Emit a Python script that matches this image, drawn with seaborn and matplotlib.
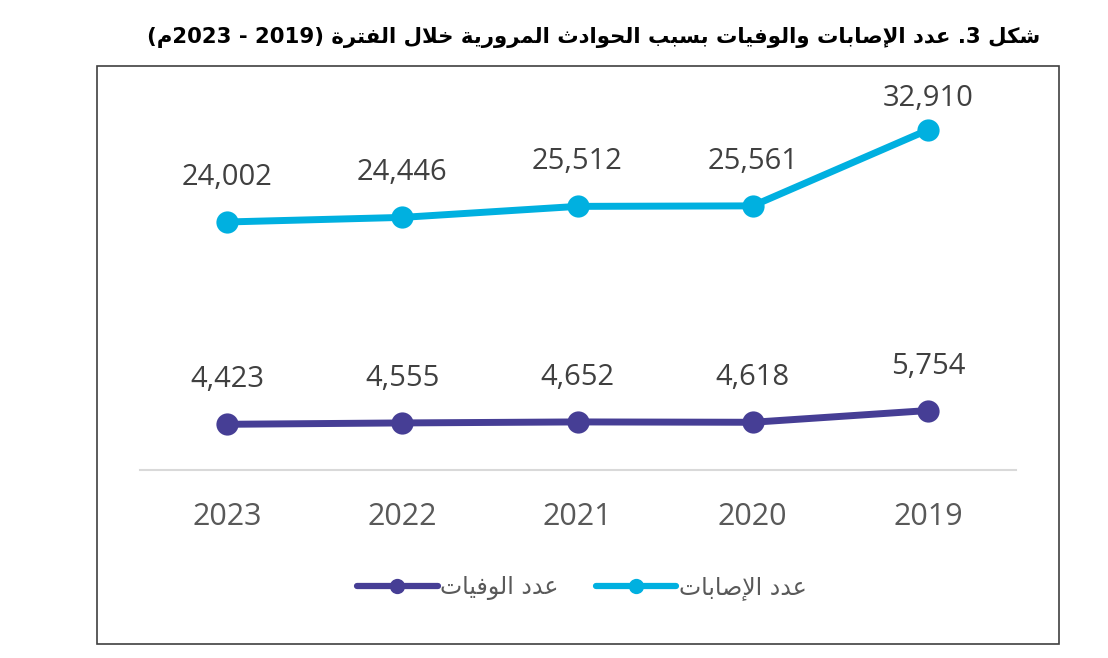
import re
import matplotlib
matplotlib.use('Agg')
import matplotlib.pyplot as plt
from matplotlib.patches import Rectangle
import seaborn as sns

# data
years = ['2023', '2022', '2021', '2020', '2019']
injuries = [24002, 24446, 25512, 25561, 32910]
deaths = [4423, 4555, 4652, 4618, 5754]

title_txt = 'شكل 3. عدد الإصابات والوفيات بسبب الحوادث المرورية خلال الفترة (2019 - 2023م)'
lbl_injuries = 'عدد الإصابات'
lbl_deaths = 'عدد الوفيات'

CYAN = '#00B0E0'
PURPLE = '#463E95'

# matplotlib has no arabic shaping, so do a tiny one by hand
# letter -> (isolated presentation form, joins to next letter)
FORMS = {
    'ا': (0xFE8D, False), 'إ': (0xFE87, False), 'ب': (0xFE8F, True), 'ة': (0xFE93, False),
    'ت': (0xFE95, True), 'ث': (0xFE99, True), 'ح': (0xFEA1, True), 'خ': (0xFEA5, True),
    'د': (0xFEA9, False), 'ر': (0xFEAD, False), 'س': (0xFEB1, True), 'ش': (0xFEB5, True),
    'ص': (0xFEB9, True), 'ع': (0xFEC9, True), 'ف': (0xFED1, True), 'ك': (0xFED9, True),
    'ل': (0xFEDD, True), 'م': (0xFEE1, True), 'و': (0xFEED, False), 'ي': (0xFEF1, True),
}
LAM_ALEF = {'ا': 0xFEFB, 'إ': 0xFEF9}


def shape(s):
    units = []
    i = 0
    while i < len(s):
        c = s[i]
        if c == 'ل' and i + 1 < len(s) and s[i + 1] in LAM_ALEF:
            units.append((LAM_ALEF[s[i + 1]], False))
            i += 2
            continue
        units.append(FORMS.get(c, c))
        i += 1
    out = []
    for k, u in enumerate(units):
        if isinstance(u, str):
            out.append(u)
            continue
        prev = k > 0 and not isinstance(units[k - 1], str) and units[k - 1][1]
        nxt = u[1] and k + 1 < len(units) and not isinstance(units[k + 1], str)
        off = 3 if (prev and nxt) else 1 if prev else 2 if nxt else 0
        out.append(chr(u[0] + off))
    return ''.join(out)


def ar(s):
    parts = re.findall(r'\d+|\D', shape(s))[::-1]
    swap = {'(': ')', ')': '('}
    return ''.join(swap.get(p, p) for p in parts)


sns.set_style('white')
plt.rcParams['font.family'] = ['Open Sans', 'DejaVu Sans']

fig = plt.figure(figsize=(11.08, 6.58), dpi=100)
ax = fig.add_axes([139.5 / 1108, 188 / 658, 876 / 1108, 372 / 658])

sns.lineplot(x=years, y=deaths, ax=ax, color=PURPLE, linewidth=5, marker='o',
             markersize=16, markeredgewidth=0, label=ar(lbl_deaths))
sns.lineplot(x=years, y=injuries, ax=ax, color=CYAN, linewidth=5, marker='o',
             markersize=16, markeredgewidth=0, label=ar(lbl_injuries))

ax.set_xlim(-0.5, 4.5)
ax.set_ylim(0, 36000)
ax.set_yticks([])
ax.set_xlabel('')
ax.set_ylabel('')
for s in ['top', 'left', 'right']:
    ax.spines[s].set_visible(False)
ax.spines['bottom'].set_color('#D9D9D9')
ax.spines['bottom'].set_linewidth(1.5)
ax.tick_params(axis='x', length=0, pad=23, labelsize=22, labelcolor='#595959')

# data labels, kept inside the plot area like excel does
top_px = ax.transAxes.transform((0, 1))[1]
for vals in [injuries, deaths]:
    for i, v in enumerate(vals):
        py = ax.transData.transform((i, v))[1]
        dy = min(32, (top_px - py) * 72 / fig.dpi)
        ax.annotate(f'{v:,}', (i, v), xytext=(0, dy), textcoords='offset points',
                    ha='center', va='center', fontsize=21, color='#404040')

ax.get_legend().remove()
h, l = ax.get_legend_handles_labels()
leg = fig.legend(h, l, loc='center', bbox_to_anchor=(582 / 1108, 1 - 588 / 658), ncol=2,
                 frameon=False, fontsize=17, handlelength=3.4, handletextpad=0.1,
                 columnspacing=1.6, labelcolor='#595959')
for lh in leg.legend_handles:
    lh.set_markersize(11)
    lh.set_linewidth(4.5)
for t in leg.get_texts():
    t.set_family('DejaVu Sans')

fig.text(1040 / 1108, 1 - 37 / 658, ar(title_txt), ha='right', va='center',
         fontsize=15.3, fontweight='bold', family='DejaVu Sans', color='black')

fig.patches.append(Rectangle((97 / 1108, 1 - 644 / 658), 962 / 1108, 578 / 658,
                             transform=fig.transFigure, fill=False,
                             edgecolor='#404040', linewidth=1.2))

fig.savefig('out.png', dpi=100)
